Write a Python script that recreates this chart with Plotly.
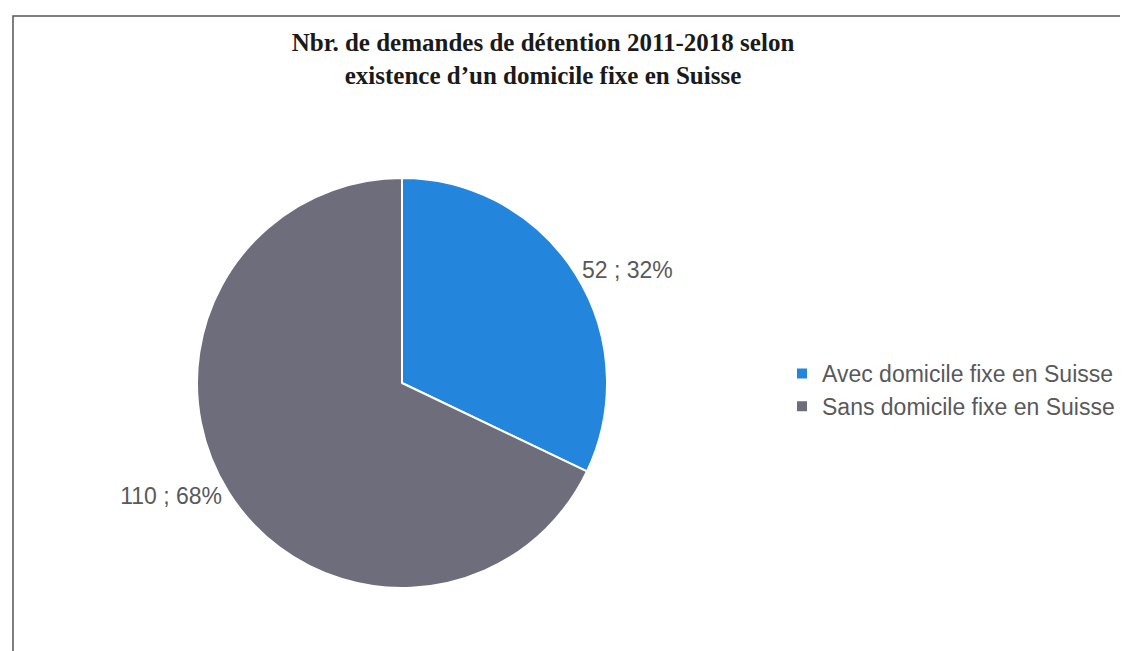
import plotly.graph_objects as go

labels = ["Avec domicile fixe en Suisse", "Sans domicile fixe en Suisse"]
values = [52, 110]
colors = ["#2386DC", "#6D6D7C"]

title_lines = ["Nbr. de demandes de détention 2011-2018 selon",
               "existence d’un domicile fixe en Suisse"]

W, H = 1128, 651

fig = go.Figure()
fig.add_trace(go.Pie(
    labels=labels, values=values,
    sort=False, direction="clockwise", rotation=0,
    marker=dict(colors=colors, line=dict(color="white", width=2)),
    textposition="outside",
    texttemplate="%{value} ; %{percent:.0%}",
    textfont=dict(family="Liberation Sans", size=23, color="#595959"),
    domain=dict(x=[189 / W, 599 / W], y=[1 - 580 / H, 1 - 170 / H]),
    hoverinfo="label+value+percent",
))

fig.update_layout(
    width=W, height=H,
    margin=dict(l=0, r=0, t=0, b=0),
    paper_bgcolor="white",
    title=dict(
        text="<br>".join(f"<b>{s}</b>" for s in title_lines),
        x=535 / W, xanchor="center", y=1 - 43 / H, yanchor="top",
        font=dict(family="Liberation Serif", size=25, color="#1a1a1a"),
    ),
    legend=dict(
        x=774 / W, y=1 - 382 / H, xanchor="left", yanchor="middle",
        font=dict(family="Liberation Sans", size=23, color="#595959"),
        itemwidth=30,
    ),
    shapes=[dict(
        type="rect", xref="paper", yref="paper",
        x0=5 / W, x1=1.02, y0=-0.02, y1=1 - 8 / H,
        line=dict(color="#555555", width=1.5),
    )],
)

fig.write_html("out.html")
